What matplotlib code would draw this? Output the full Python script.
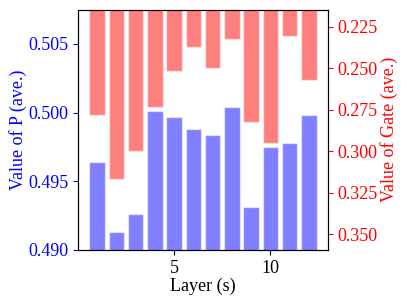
import matplotlib
matplotlib.use("Agg")
import matplotlib.pyplot as plt

layers = list(range(1, 13))
p_values = [0.4964, 0.4913, 0.4926, 0.5001, 0.4997, 0.4988, 0.4984, 0.5004, 0.4931, 0.4975, 0.4978, 0.4998]
gate_values = [0.2783, 0.3165, 0.2997, 0.2733, 0.2517, 0.2372, 0.2500, 0.2324, 0.2824, 0.2952, 0.2304, 0.2571]
p_ticks = [0.490, 0.495, 0.500, 0.505]
gate_ticks = [0.225, 0.250, 0.275, 0.300, 0.325, 0.350]
x_ticks = [5, 10]

plt.rcParams['font.family'] = ['Liberation Serif', 'DejaVu Serif']
fs = 13

fig = plt.figure(figsize=(4.07, 3.05), dpi=100)
ax = fig.add_axes([78/407, 1-250/305, (328-78)/407, (250-9.5)/305])
ax.bar(layers, p_values, width=0.8, color='blue', alpha=0.5, edgecolor='white', linewidth=1)
ax.set_ylim(0.490, 0.5075)
ax.set_yticks(p_ticks)
ax.set_yticklabels([f"{v:.3f}" for v in p_ticks])
ax.set_ylabel("Value of P (ave.)", color='blue', fontsize=fs, labelpad=0.5)
ax.tick_params(axis='y', colors='blue', labelsize=fs)
ax.tick_params(axis='x', labelsize=fs)
ax.set_xticks(x_ticks)
ax.set_xlabel("Layer (s)", fontsize=fs, labelpad=1)

ax2 = ax.twinx()
ax2.bar(layers, gate_values, width=0.8, color='red', alpha=0.5, edgecolor='white', linewidth=1)
ax2.set_ylim(0.3595, 0.2146)
ax2.set_yticks(gate_ticks)
ax2.set_yticklabels([f"{v:.3f}" for v in gate_ticks])
ax2.set_ylabel("Value of Gate (ave.)", color='red', fontsize=fs, labelpad=1.5)
ax2.tick_params(axis='y', colors='red', labelsize=fs)
ax.set_xlim(0.01, 12.99)

fig.savefig("out.png", dpi=100)
